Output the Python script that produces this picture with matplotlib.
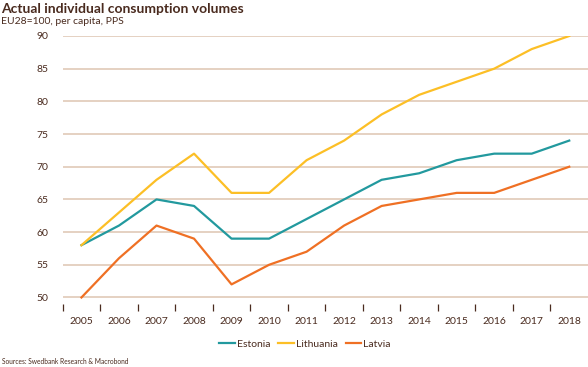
import matplotlib
matplotlib.use("Agg")
import matplotlib.pyplot as plt
from matplotlib.ticker import FixedLocator

years = [str(y) for y in range(2005, 2019)]
estonia = [58, 61, 65, 64, 59, 59, 62, 65, 68, 69, 71, 72, 72, 74]
lithuania = [58, 63, 68, 72, 66, 66, 71, 74, 78, 81, 83, 85, 88, 90]
latvia = [50, 56, 61, 59, 52, 55, 57, 61, 64, 65, 66, 66, 68, 70]
yticks = [50, 55, 60, 65, 70, 75, 80, 85, 90]

TXT = "#4a2b1f"
GRID = "#e0cab8"
plt.rcParams['font.family'] = ['Lato', 'DejaVu Sans']

fig = plt.figure(figsize=(5.88, 3.67), dpi=100)
ax = fig.add_axes([62.7/588, 1-304/367, 1-62.7/588, (304-36)/367])

x = list(range(len(years)))
ax.plot(x, estonia, color="#22999e", lw=1.6, label="Estonia")
ax.plot(x, lithuania, color="#fcbf26", lw=1.6, label="Lithuania")
ax.plot(x, latvia, color="#ef7024", lw=1.6, label="Latvia")

ax.set_xlim(-0.5, 13.5)
ax.set_ylim(49, 90)
for y in yticks:
    ax.axhline(y, color=GRID, lw=1.2, zorder=0)
ax.set_yticks(yticks)
ax.set_xticks(x)
ax.set_xticklabels(years)
ax.xaxis.set_minor_locator(FixedLocator([i - 0.5 for i in x]))
ax.tick_params(axis="x", which="major", length=0, pad=9, labelsize=7.5, labelcolor=TXT)
ax.tick_params(axis="x", which="minor", length=5, width=0.9, color=TXT, direction="out")
ax.tick_params(axis="y", length=0, pad=10, labelsize=7.5, labelcolor=TXT)
for s in ax.spines.values():
    s.set_visible(False)

fig.text(0.002, 1-9/367, "Actual individual consumption volumes", fontsize=10, fontweight="bold",
         color=TXT, va="center", ha="left")
fig.text(0.002, 1-22/367, "EU28=100, per capita, PPS", fontsize=7.5, color=TXT, va="center", ha="left")
fig.text(0.004, 1-362/367, "Sources: Swedbank Research & Macrobond", fontsize=4.8, color=TXT, va="center", ha="left")

leg = fig.legend(loc="center", bbox_to_anchor=(305/588, 1-344/367), ncol=3, frameon=False,
                 fontsize=7.5, handlelength=1.5, handletextpad=0.15, columnspacing=0.8)
for t in leg.get_texts():
    t.set_color(TXT)

fig.savefig("out.png", dpi=100)
